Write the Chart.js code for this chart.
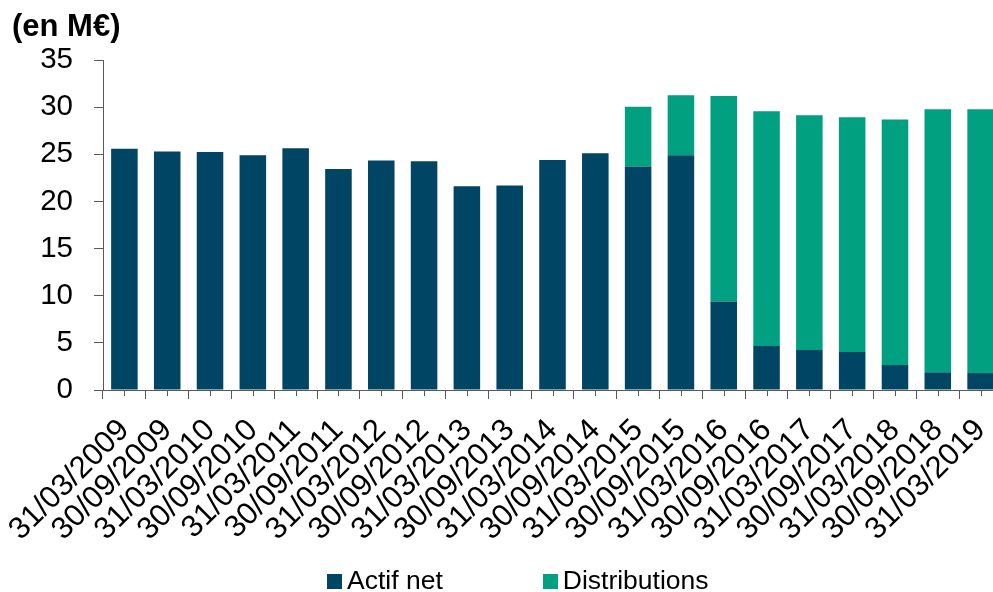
<!DOCTYPE html>
<html>
<head>
<meta charset="utf-8">
<script src="https://cdn.jsdelivr.net/npm/chart.js@4.4.1/dist/chart.umd.min.js"></script>
<style>
  html, body { margin: 0; padding: 0; background: #fff; overflow: hidden; }
  #wrap { position: relative; width: 1002px; height: 592px; }
  #title {
    position: absolute; left: 12px; top: 10px;
    font: bold 31px "Liberation Sans", Arial, sans-serif; line-height: 1; color: #000;
  }
  #legend {
    position: absolute; left: 327px; top: 567px;
    font: 26.5px "Liberation Sans", Arial, sans-serif; line-height: 1; color: #000;
    display: flex;
  }
  .item { display: flex; align-items: flex-start; }
  .box { width: 15px; height: 15px; margin: 7px 5px 0 0; }
</style>
</head>
<body>
<div id="wrap">
  <canvas id="chart" width="1002" height="592"></canvas>
  <div id="title">(en M€)</div>
  <div id="legend"></div>
</div>
<script>
const dates = ['31/03/2009', '30/09/2009', '31/03/2010', '30/09/2010', '31/03/2011', '30/09/2011',
  '31/03/2012', '30/09/2012', '31/03/2013', '30/09/2013', '31/03/2014', '30/09/2014',
  '31/03/2015', '30/09/2015', '31/03/2016', '30/09/2016', '31/03/2017', '30/09/2017',
  '31/03/2018', '30/09/2018', '31/03/2019']
const actifNet = [25.6, 25.3, 25.25, 24.9, 25.65, 23.45, 24.35, 24.25, 21.6, 21.7, 24.4, 25.1,
  23.7, 24.9, 9.38, 4.67, 4.25, 4.04, 2.65, 1.88, 1.8]
const distributions = [null, null, null, null, null, null, null, null, null, null, null, null,
  6.35, 6.35, 21.8, 24.9, 24.9, 24.9, 26.05, 27.9, 27.97]
const yTicks = [0, 5, 10, 15, 20, 25, 30, 35]

const font = "'Liberation Sans', Arial, sans-serif"
const axisColor = '#5a5a5a'

// small tick marks at the middle of each category
const centerTicks = {
  id: 'centerTicks',
  afterDraw(chart) {
    const x = chart.scales.x
    const ctx = chart.ctx
    ctx.save()
    ctx.strokeStyle = axisColor
    ctx.lineWidth = 1
    x.ticks.forEach((t, i) => {
      const px = Math.round(x.getPixelForTick(i)) + 0.5
      ctx.beginPath()
      ctx.moveTo(px, x.top)
      ctx.lineTo(px, x.top + 6)
      ctx.stroke()
    })
    ctx.restore()
  }
}

const data = {
  labels: dates,
  datasets: [
    { label: 'Actif net', data: actifNet, backgroundColor: '#004563' },
    { label: 'Distributions', data: distributions, backgroundColor: '#00a080' }
  ]
}

new Chart(document.getElementById('chart'), {
  type: 'bar',
  data: data,
  plugins: [centerTicks],
  options: {
    responsive: false,
    animation: false,
    layout: { padding: { top: 60, left: 0, right: 0, bottom: 0 } },
    datasets: { bar: { barPercentage: 0.62, categoryPercentage: 1, borderWidth: 0 } },
    plugins: { legend: { display: false }, tooltip: { enabled: false }, title: { display: false } },
    scales: {
      x: {
        stacked: true,
        grid: { offset: true, drawOnChartArea: false, tickLength: 9, color: axisColor },
        border: { color: axisColor },
        ticks: {
          color: '#000', font: { family: font, size: 31 },
          minRotation: 45, maxRotation: 45, autoSkip: false, padding: 13
        },
        afterFit(scale) {
          scale.height = 202
          scale.paddingLeft = 0
          scale.paddingRight = 0
        }
      },
      y: {
        stacked: true,
        min: 0,
        max: 35,
        afterBuildTicks(scale) {
          scale.ticks = yTicks.map(v => ({ value: v }))
        },
        grid: { drawOnChartArea: false, tickLength: 9, color: axisColor },
        border: { color: axisColor },
        ticks: { color: '#000', font: { family: font, size: 29.5 }, padding: 21 },
        afterFit(scale) {
          scale.width = 103
        }
      }
    }
  }
})

const legend = document.getElementById('legend')
data.datasets.forEach((ds, i) => {
  const item = document.createElement('div')
  item.className = 'item'
  if (i === 0) item.style.marginRight = '100px'
  const box = document.createElement('span')
  box.className = 'box'
  box.style.background = ds.backgroundColor
  const txt = document.createElement('span')
  txt.textContent = ds.label
  item.appendChild(box)
  item.appendChild(txt)
  legend.appendChild(item)
})
</script>
</body>
</html>
